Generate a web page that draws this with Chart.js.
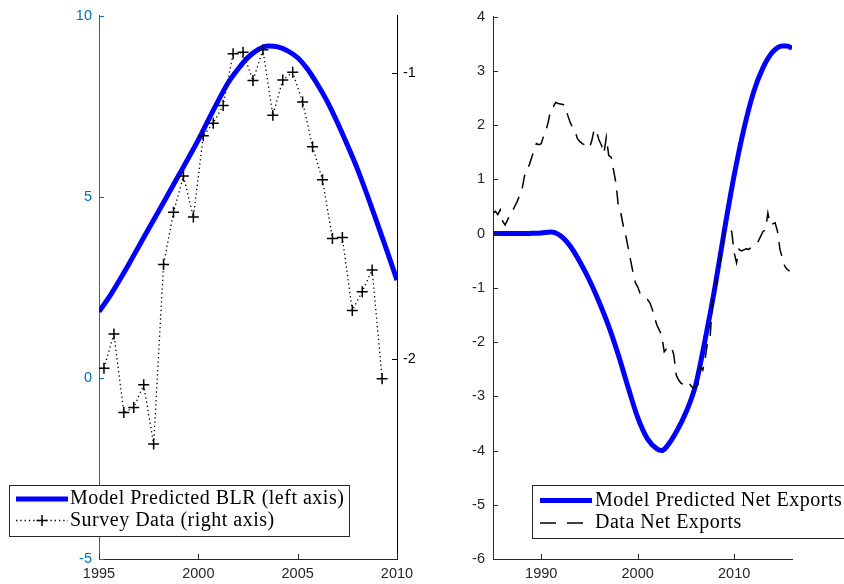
<!DOCTYPE html>
<html>
<head>
<meta charset="utf-8">
<script src="https://cdn.jsdelivr.net/npm/chart.js@4.4.1/dist/chart.umd.min.js"></script>
<style>
  body { margin: 0; background: #fff; }
  #wrap { position: relative; width: 844px; height: 584px; overflow: hidden; }
  canvas { position: absolute; top: 0; }
  #blr-chart { left: 0; }
  #nx-chart { left: 440px; }
</style>
</head>
<body>
<div id="wrap">
  <canvas id="blr-chart" width="440" height="584"></canvas>
  <canvas id="nx-chart" width="404" height="584"></canvas>
</div>
<script>
// ---------- left panel: BLR model vs survey ----------
const blrYears = [1995, 1995.5, 1996, 1996.5, 1997, 1997.5, 1998, 1998.5, 1999, 1999.5,
  2000, 2000.5, 2001, 2001.5, 2002, 2002.5, 2003, 2003.5, 2004, 2004.5,
  2005, 2005.5, 2006, 2006.5, 2007, 2007.5, 2008, 2008.5, 2009, 2009.5, 2010];
const blrModel = [1.83, 2.22, 2.67, 3.14, 3.63, 4.12, 4.60, 5.09, 5.58, 6.07,
  6.57, 7.12, 7.65, 8.15, 8.53, 8.85, 9.06, 9.16, 9.14, 9.03,
  8.84, 8.52, 8.10, 7.62, 7.05, 6.43, 5.78, 5.05, 4.28, 3.50, 2.70];

const surveyYears = [1995.25, 1995.75, 1996.25, 1996.75, 1997.25, 1997.75, 1998.25, 1998.75,
  1999.25, 1999.75, 2000.25, 2000.75, 2001.25, 2001.75, 2002.25, 2002.75, 2003.25, 2003.75,
  2004.25, 2004.75, 2005.25, 2005.75, 2006.25, 2006.75, 2007.25, 2007.75, 2008.25, 2008.75, 2009.25];
const surveyData = [-2.033, -1.913, -2.188, -2.170, -2.091, -2.298, -1.670, -1.487,
  -1.361, -1.504, -1.220, -1.176, -1.114, -0.933, -0.928, -1.027, -0.919, -1.148,
  -1.025, -0.998, -1.102, -1.258, -1.374, -1.579, -1.576, -1.831, -1.765, -1.689, -2.070];

const blrXTicks = [1995, 2000, 2005, 2010];
const blrLeftTicks = [-5, 0, 5, 10];
const blrRightTicks = [-2, -1];

// ---------- right panel: net exports ----------
const nxModelYears = [1985, 1986, 1987, 1988, 1989, 1990, 1991, 1992, 1993, 1994,
  1995, 1996, 1997, 1998, 1999, 2000, 2001, 2002, 2002.5, 2003,
  2004, 2005, 2006, 2007, 2008, 2009, 2010, 2011, 2012, 2013,
  2014, 2015, 2015.5, 2016];
const nxModel = [0, 0, 0, 0, 0.005, 0.012, 0.03, -0.04, -0.23, -0.52,
  -0.86, -1.26, -1.71, -2.24, -2.83, -3.39, -3.78, -3.97, -4.0, -3.93,
  -3.66, -3.30, -2.80, -1.95, -1.0, 0.07, 1.07, 1.92, 2.60, 3.06,
  3.35, 3.46, 3.46, 3.42];

// quarterly, 1985Q1 .. 2015Q4
const nxDataStart = 1985;
const nxData = [
  0.38, 0.41, 0.35, 0.44,   0.23, 0.16, 0.25, 0.35,   0.41, 0.50, 0.59, 0.70,
  0.80, 1.05, 1.20, 1.26,   1.40, 1.54, 1.66, 1.64,   1.66, 1.80, 1.90, 2.08,
  2.30, 2.34, 2.42, 2.40,   2.39, 2.38, 2.36, 2.18,   2.05, 1.96, 1.90, 1.75,
  1.70, 1.66, 1.64, 1.60,   1.58, 1.72, 1.93, 1.87,   1.72, 1.63, 1.48, 1.78,
  1.44, 1.41, 1.17, 0.93,   0.50, 0.38, 0.15, -0.02,  -0.25, -0.48, -0.70, -0.90,
  -0.98, -1.10, -1.14, -1.18, -1.21, -1.27, -1.39, -1.55, -1.69, -1.78, -1.88, -2.18,
  -2.12, -2.08, -2.09, -2.24, -2.61, -2.70, -2.76, -2.78, -2.74, -2.73, -2.80, -2.85,
  -2.82, -2.79, -2.46, -2.52, -2.30, -2.00, -1.94, -1.27, -1.05, -0.84, -0.54, -0.30,
  0.07, 0.10, 0.08, 0.04,   -0.35, -0.54, -0.29, -0.32, -0.30, -0.28, -0.29, -0.26,
  -0.23, -0.18, -0.14, -0.05, 0.04, 0.07, 0.38, 0.16,   0.18, 0.20, 0.04, -0.29,
  -0.45, -0.60, -0.66, -0.69
];

const nxXTicks = [1990, 2000, 2010];
const nxYTicks = [-6, -5, -4, -3, -2, -1, 0, 1, 2, 3, 4];

const blrLabels = ['Model Predicted BLR (left axis)', 'Survey Data (right axis)'];
const nxLabels = ['Model Predicted Net Exports', 'Data Net Exports'];

const AXIS_BLUE = '#0072BD';
const AXIS_DARK = '#262626';

Chart.defaults.font.family = '"Liberation Sans", Arial, sans-serif';
Chart.defaults.font.size = 14.5;

// ============================================
// helpers
// ============================================

function xy(xs, ys) {
  return xs.map((x, i) => ({ x, y: ys[i] }));
}

// replace the generated ticks with a fixed list
function fixedTicks(list) {
  return scale => { scale.ticks = list.map(v => ({ value: v })); };
}

// matlab style ticks, pointing into the plot
const inwardTicks = {
  id: 'inwardTicks',
  afterDraw(chart) {
    const ctx = chart.ctx;
    const area = chart.chartArea;
    ctx.save();
    ctx.lineWidth = 1;
    Object.values(chart.scales).forEach(scale => {
      ctx.strokeStyle = scale.options.border.color;
      scale.ticks.forEach(t => {
        const p = Math.round(scale.getPixelForValue(t.value)) + 0.5;
        ctx.beginPath();
        if (scale.isHorizontal()) {
          ctx.moveTo(p, area.bottom);
          ctx.lineTo(p, area.bottom - 5);
        } else if (scale.position === 'left') {
          ctx.moveTo(area.left, p);
          ctx.lineTo(area.left + 5, p);
        } else {
          ctx.moveTo(area.right, p);
          ctx.lineTo(area.right - 5, p);
        }
        ctx.stroke();
      });
    });
    ctx.restore();
  }
};

// boxed legend placed anywhere on the canvas
const boxLegend = {
  id: 'boxLegend',
  afterDraw(chart, args, opts) {
    const ctx = chart.ctx;
    ctx.save();
    ctx.fillStyle = '#fff';
    ctx.fillRect(opts.x, opts.y, opts.w, opts.h);
    ctx.strokeStyle = AXIS_DARK;
    ctx.lineWidth = 1;
    ctx.strokeRect(opts.x + 0.5, opts.y + 0.5, opts.w, opts.h);

    opts.rows.forEach((rowY, i) => {
      const ds = chart.data.datasets[opts.order[i]];
      ctx.strokeStyle = ds.borderColor;
      ctx.lineWidth = ds.borderWidth;
      ctx.setLineDash(ds.legendDash || ds.borderDash || []);
      ctx.beginPath();
      ctx.moveTo(opts.sampleFrom, rowY);
      ctx.lineTo(opts.sampleTo, rowY);
      ctx.stroke();
      ctx.setLineDash([]);
      if (ds.pointStyle === 'cross' && ds.pointRadius > 0) {
        const cx = (opts.sampleFrom + opts.sampleTo) / 2;
        const r = ds.pointRadius;
        ctx.lineWidth = ds.pointBorderWidth;
        ctx.strokeStyle = ds.pointBorderColor;
        ctx.beginPath();
        ctx.moveTo(cx - r, rowY); ctx.lineTo(cx + r, rowY);
        ctx.moveTo(cx, rowY - r); ctx.lineTo(cx, rowY + r);
        ctx.stroke();
      }
      ctx.fillStyle = '#000';
      ctx.font = '20px "Liberation Serif", "Times New Roman", serif';
      if ('letterSpacing' in ctx) ctx.letterSpacing = '0.5px';
      ctx.textBaseline = 'middle';
      ctx.textAlign = 'left';
      ctx.fillText(ds.label, opts.textX, rowY);
    });
    ctx.restore();
  }
};

// ============================================
// left chart
// ============================================

new Chart(document.getElementById('blr-chart'), {
  type: 'line',
  data: {
    datasets: [{
      label: blrLabels[1],
      data: xy(surveyYears, surveyData),
      yAxisID: 'y1',
      order: 0,
      borderColor: '#000',
      borderWidth: 1.3,
      borderDash: [1.3, 3],
      pointStyle: 'cross',
      pointRadius: 5.5,
      pointBorderWidth: 1.5,
      pointBorderColor: '#000',
      tension: 0,
    }, {
      label: blrLabels[0],
      data: xy(blrYears, blrModel),
      yAxisID: 'y',
      order: 1,
      borderColor: '#0000ff',
      borderWidth: 5,
      pointRadius: 0,
      cubicInterpolationMode: 'monotone',
    }]
  },
  options: {
    responsive: false,
    animation: false,
    devicePixelRatio: 1,
    layout: { padding: { top: 12, left: 0, right: 0, bottom: 0 } },
    plugins: {
      legend: { display: false },
      tooltip: { enabled: false },
      boxLegend: {
        x: 9, y: 485, w: 340, h: 51,
        rows: [499, 520.5],
        order: [1, 0],
        sampleFrom: 16, sampleTo: 68, textX: 70,
      }
    },
    scales: {
      x: {
        type: 'linear', min: 1995, max: 2010,
        afterBuildTicks: fixedTicks(blrXTicks),
        afterFit: scale => { scale.height = 25; },
        ticks: { color: AXIS_DARK, padding: 6, maxRotation: 0, callback: v => String(v) },
        grid: { display: false, drawTicks: false },
        border: { color: AXIS_DARK, width: 1 },
      },
      y: {
        position: 'left', min: -5, max: 10,
        afterBuildTicks: fixedTicks(blrLeftTicks),
        afterFit: scale => { scale.width = 99; },
        ticks: { color: AXIS_BLUE, padding: 7, callback: v => String(v) },
        grid: { display: false, drawTicks: false },
        border: { color: AXIS_BLUE, width: 1 },
      },
      y1: {
        position: 'right', min: -2.7, max: -0.8,
        afterBuildTicks: fixedTicks(blrRightTicks),
        afterFit: scale => { scale.width = 43; },
        ticks: { color: '#000', padding: 6, callback: v => String(v) },
        grid: { display: false, drawTicks: false },
        border: { color: '#000', width: 1 },
      }
    }
  },
  plugins: [inwardTicks, boxLegend]
});

// ============================================
// right chart
// ============================================

const nxDataYears = nxData.map((v, i) => nxDataStart + i / 4);

new Chart(document.getElementById('nx-chart'), {
  type: 'line',
  data: {
    datasets: [{
      label: nxLabels[1],
      data: xy(nxDataYears, nxData),
      order: 0,
      borderColor: '#000',
      borderWidth: 1.5,
      borderDash: [14, 9],
      legendDash: [16, 11],
      pointRadius: 0,
      tension: 0,
    }, {
      label: nxLabels[0],
      data: xy(nxModelYears, nxModel),
      order: 1,
      borderColor: '#0000ff',
      borderWidth: 5,
      pointRadius: 0,
      cubicInterpolationMode: 'monotone',
    }]
  },
  options: {
    responsive: false,
    animation: false,
    devicePixelRatio: 1,
    layout: { padding: { top: 12, left: 0, right: 52, bottom: 0 } },
    plugins: {
      legend: { display: false },
      tooltip: { enabled: false },
      boxLegend: {
        x: 92, y: 485, w: 330, h: 53,
        rows: [500.5, 523],
        order: [1, 0],
        sampleFrom: 100, sampleTo: 152, textX: 155,
      }
    },
    scales: {
      x: {
        type: 'linear', min: 1985, max: 2016,
        afterBuildTicks: fixedTicks(nxXTicks),
        afterFit: scale => { scale.height = 25; },
        ticks: { color: AXIS_DARK, padding: 6, maxRotation: 0, callback: v => String(v) },
        grid: { display: false, drawTicks: false },
        border: { color: AXIS_DARK, width: 1 },
      },
      y: {
        position: 'left', min: -6, max: 4,
        afterBuildTicks: fixedTicks(nxYTicks),
        afterFit: scale => { scale.width = 53; },
        ticks: { color: AXIS_DARK, padding: 8, callback: v => String(v) },
        grid: { display: false, drawTicks: false },
        border: { color: AXIS_DARK, width: 1 },
      }
    }
  },
  plugins: [inwardTicks, boxLegend]
});
</script>
</body>
</html>
